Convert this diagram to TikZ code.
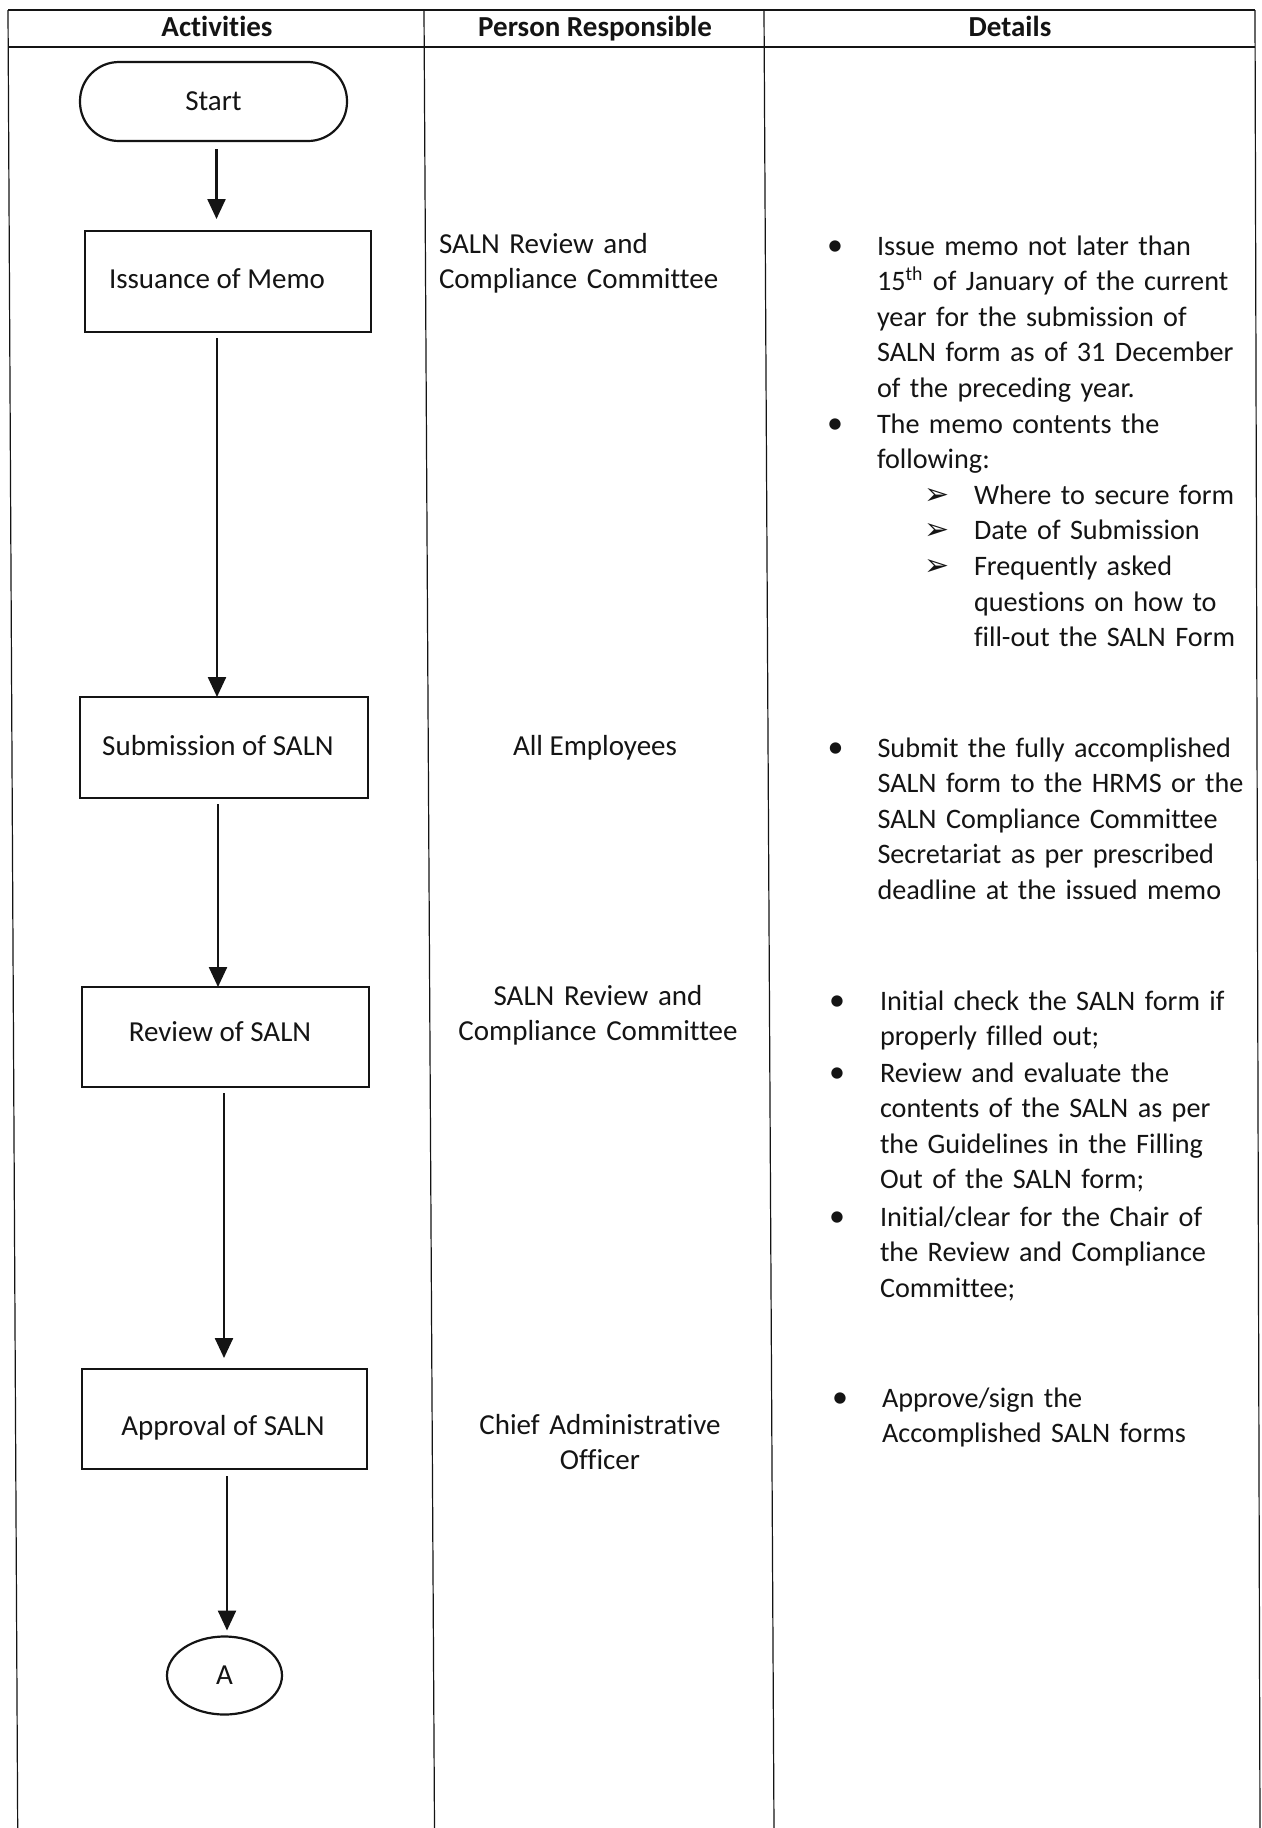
\documentclass[tikz,border=0pt]{standalone}
\usepackage{fontspec}
\setmainfont{Carlito}[Ligatures={NoCommon}]
\newfontfamily\dejavu{DejaVu Sans}
\usetikzlibrary{arrows.meta,shapes.geometric}
\definecolor{ink}{RGB}{20,20,20}
\begin{document}
\begin{tikzpicture}[x=0.5pt,y=-0.5pt,
  every node/.style={text=ink},
  txt/.style={font=\fontsize{14.5pt}{17.8pt}\selectfont, inner sep=0pt, outer sep=0pt},
  hdr/.style={txt, font=\fontsize{14.5pt}{17.8pt}\selectfont\bfseries, anchor=base},
  lbl/.style={txt, anchor=base},
  para/.style={txt, anchor=base west, align=left, text width=220pt},
  dpara/.style={para, font=\fontsize{14.1pt}{17.8pt}\selectfont},
  cpara/.style={txt, anchor=base, align=center, text width=170pt},
  bul/.style={font=\fontsize{16pt}{17.8pt}\selectfont, inner sep=0pt, anchor=base},
  abul/.style={font=\dejavu\fontsize{15pt}{17pt}\selectfont, inner sep=0pt, anchor=base},
  flowbox/.style={draw=ink, line width=1.1pt, inner sep=0pt, outer sep=0pt},
  arr/.style={draw=ink, line width=1.2pt, -{Triangle[length=10pt,width=9pt]}},
  gridline/.style={draw=ink, line width=0.6pt}
]
\useasboundingbox (0,0) rectangle (1262,1828);
\fill[white] (0,0) rectangle (1262,1828);

% table
\draw[gridline] (8,10) -- (1255,10);
\draw[gridline] (8,47) -- (1255,47);
\draw[gridline] (8,10) -- (17.7,1828);
\draw[gridline] (424,10) -- (434.5,1828);
\draw[gridline] (764,10) -- (774,1828);
\draw[gridline] (1255,10) -- (1260,1828);

% headers
\node[hdr] (h1) at (217,36) {Activities};
\node[hdr] (h2) at (595,36) {Person Responsible};
\node[hdr] (h3) at (1010,36) {Details};

% flow
\node[flowbox, rounded corners=19.5pt, minimum width=133.5pt, minimum height=39.5pt, txt] (start) at (213.5,101.5) {Start};
\node[flowbox, minimum width=143pt, minimum height=50.5pt] (memo) at (228,281.5) {};
\node[lbl] (memoL) at (217,288) {Issuance of Memo};
\node[flowbox, minimum width=144pt, minimum height=50.5pt] (sub) at (224,747.5) {};
\node[lbl] (subL) at (218,755) {Submission of SALN};
\node[flowbox, minimum width=143.5pt, minimum height=50pt] (review) at (225.5,1037) {};
\node[lbl] (revL) at (220,1041) {Review of SALN};
\node[flowbox, minimum width=142.5pt, minimum height=50pt] (app) at (224.5,1419) {};
\node[lbl] (appL) at (223,1435) {Approval of SALN};
\node[flowbox, ellipse, minimum width=57.5pt, minimum height=39pt, txt] (A) at (224.5,1675.5) {A};

\draw[arr] ([xshift=1.5pt,yshift=-4pt]start.south) -- ([xshift=1.5pt,yshift=6pt]start.south |- memo.north);
\draw[arr] ([yshift=-3pt]memoL |- memo.south) -- (memoL |- sub.north);
\draw[arr] ([yshift=-3pt]subL |- sub.south) -- (subL |- review.north);
\draw[arr] ([xshift=2pt,yshift=-3pt]revL |- review.south) -- ([xshift=2pt,yshift=5.5pt]revL |- app.north);
\draw[arr] ([xshift=2pt,yshift=-3.5pt]appL |- app.south) -- ([xshift=2pt,yshift=3pt]appL |- A.north);

% person responsible
\node[para] (p1) at (439,253) {SALN Review and\\Compliance Committee};
\node[lbl] (p2) at (595,755) {All Employees};
\node[cpara] (p3) at (598,1005) {SALN Review and\\Compliance Committee};
\node[cpara] (p4) at (600,1434) {Chief Administrative\\Officer};

% details block 1
\node[bul] (b1) at (835,255) {•};
\node[dpara] (d1) at (877,255) {Issue memo not later than\\15\textsuperscript{th} of January of the current\\year for the submission of\\SALN form as of 31 December\\of the preceding year.};
\node[bul] (b2) at (835,433) {•};
\node[dpara] (d2) at (877,433) {The memo contents the\\following:};
\node[abul] (s1) at (937,504.2) {➢};
\node[dpara] (e1) at (974,504.2) {Where to secure form};
\node[abul] (s2) at (937,539.8) {➢};
\node[dpara] (e2) at (974,539.8) {Date of Submission};
\node[abul] (s3) at (937,575.4) {➢};
\node[dpara] (e3) at (974,575.4) {Frequently asked\\questions on how to\\fill-out the SALN Form};

% details block 2
\node[bul] (b3) at (835.5,757) {•};
\node[dpara] (d3) at (877.5,757) {Submit the fully accomplished\\SALN form to the HRMS or the\\SALN Compliance Committee\\Secretariat as per prescribed\\deadline at the issued memo};

% details block 3
\node[bul] (b4) at (837,1010) {•};
\node[dpara] (d4) at (880,1010) {Initial check the SALN form if\\properly filled out;};
\node[bul] (b5) at (837,1082) {•};
\node[dpara] (d5) at (880,1082) {Review and evaluate the\\contents of the SALN as per\\the Guidelines in the Filling\\Out of the SALN form;};
\node[bul] (b6) at (837,1226) {•};
\node[dpara] (d6) at (880,1226) {Initial/clear for the Chair of\\the Review and Compliance\\Committee;};

% details block 4
\node[bul] (b7) at (840,1407) {•};
\node[dpara] (d7) at (882,1407) {Approve/sign the\\Accomplished SALN forms};
\end{tikzpicture}
\end{document}
